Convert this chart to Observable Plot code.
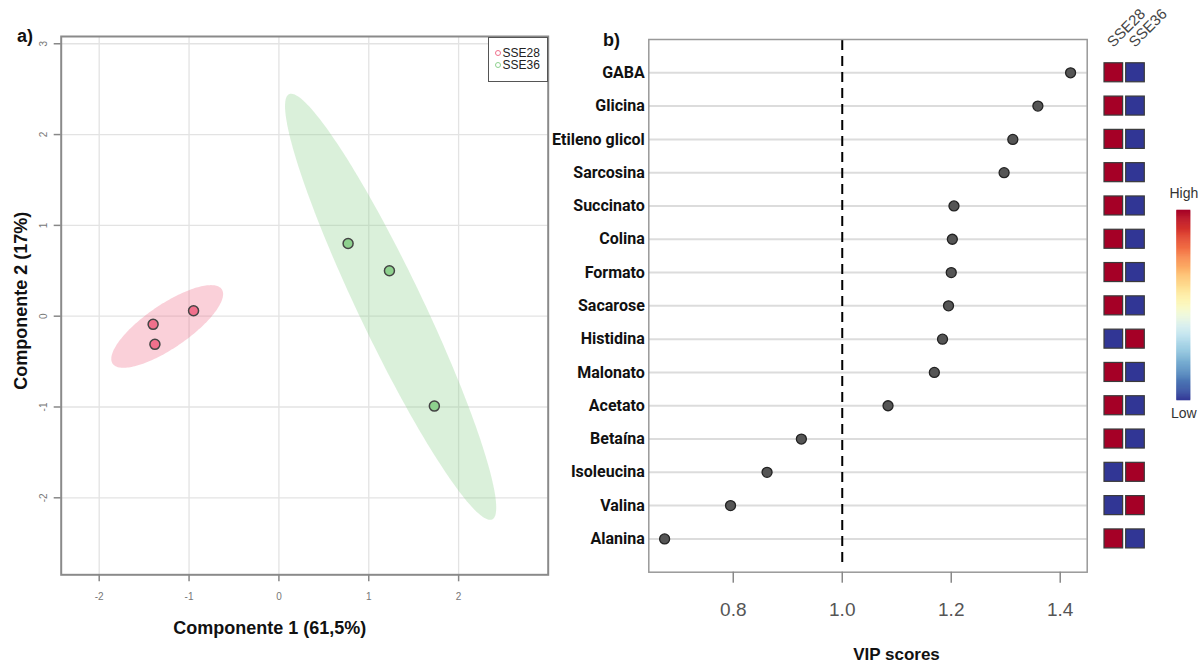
<!DOCTYPE html>
<html><head><meta charset="utf-8">
<script src="https://cdn.jsdelivr.net/npm/d3@7"></script>
<script src="https://cdn.jsdelivr.net/npm/@observablehq/plot@0.6"></script>
<style>
body{margin:0;background:#fff;}
#fig{position:relative;width:1198px;height:665px;overflow:hidden;background:#fff;font-family:"Liberation Sans",Arial,sans-serif;}
#fig svg{position:absolute;top:0;overflow:visible;}
.letter{position:absolute;font-weight:bold;font-size:18px;line-height:18px;color:#111;}
#legend{position:absolute;left:487.5px;top:36.5px;width:58px;height:43px;border:1px solid #555;background:#fff;font-size:12px;color:#222;}
#legend .row{position:absolute;left:0;height:12px;line-height:12px;white-space:nowrap;}
#legend .sw{position:absolute;left:6px;top:3px;width:4px;height:4px;border-radius:50%;border:1.5px solid;}
#legend .tx{position:absolute;left:14px;top:0;}
</style></head><body><div id="fig"></div>
<script>
// ---------- data ----------
const groupNames = ["SSE28", "SSE36"];
const sampleGroup = ["SSE28", "SSE28", "SSE28", "SSE36", "SSE36", "SSE36"];
const pc1 = [-1.40, -1.38, -0.95, 0.77, 1.23, 1.73];
const pc2 = [-0.09, -0.31, 0.06, 0.80, 0.50, -0.99];
const pcaXTicks = [-2, -1, 0, 1, 2];
const pcaYTicks = [-2, -1, 0, 1, 2, 3];

const metabolites = ["GABA", "Glicina", "Etileno glicol", "Sarcosina", "Succinato", "Colina", "Formato",
  "Sacarose", "Histidina", "Malonato", "Acetato", "Betaína", "Isoleucina", "Valina", "Alanina"];
const vipScores = [1.419, 1.359, 1.313, 1.297, 1.205, 1.202, 1.200, 1.195, 1.184, 1.169, 1.084, 0.925, 0.862, 0.795, 0.674];
const levelSSE28 = [1, 1, 1, 1, 1, 1, 1, 1, 0, 1, 1, 1, 0, 0, 1];
const levelSSE36 = [0, 0, 0, 0, 0, 0, 0, 0, 1, 0, 0, 0, 1, 1, 0];
const vipTicks = [0.8, 1.0, 1.2, 1.4];
const vipThreshold = [1.0];

// ---------- styles ----------
const groupColors = ["#F0708C", "#8ED18E"];
const font = "'Liberation Sans', Arial, sans-serif";
const labelFont = "Roboto, 'Liberation Sans', sans-serif";

// ---------- derived tables ----------
const pcaData = pc1.map((x, i) => ({group: sampleGroup[i], pc1: x, pc2: pc2[i]}));
function confEllipse(pts) {
  const n = pts.length;
  const mx = d3.mean(pts, d => d.pc1), my = d3.mean(pts, d => d.pc2);
  const sxx = d3.sum(pts, d => (d.pc1 - mx) ** 2) / (n - 1);
  const syy = d3.sum(pts, d => (d.pc2 - my) ** 2) / (n - 1);
  const sxy = d3.sum(pts, d => (d.pc1 - mx) * (d.pc2 - my)) / (n - 1);
  const tr = sxx + syy, det = sxx * syy - sxy * sxy;
  const disc = Math.sqrt(Math.max(0, tr * tr / 4 - det));
  const l1 = tr / 2 + disc, l2 = Math.max(0, tr / 2 - disc);
  const th = 0.5 * Math.atan2(2 * sxy, sxx - syy);
  const k = Math.sqrt(5.991); // 95% chi-square, 2 df
  const a = k * Math.sqrt(l1), b = k * Math.sqrt(l2);
  return d3.range(0, 2 * Math.PI, Math.PI / 90).map(t => ({
    x: mx + a * Math.cos(t) * Math.cos(th) - b * Math.sin(t) * Math.sin(th),
    y: my + a * Math.cos(t) * Math.sin(th) + b * Math.sin(t) * Math.cos(th)
  }));
}
const vipData = metabolites.map((m, i) => ({name: m, vip: vipScores[i]}));
const heatData = metabolites.flatMap((m, i) => [
  {name: m, col: "SSE28", level: levelSSE28[i]},
  {name: m, col: "SSE36", level: levelSSE36[i]}
]);
const colorScale = {type: "linear", scheme: "RdYlBu", reverse: true, domain: [0, 1]};
const rampStep = 0.005;
const rampLevels = d3.range(0, 1, rampStep);

const fig = document.getElementById("fig");

// ---------- panel a: PCA ----------
const left = Plot.plot({
  width: 560, height: 665,
  marginLeft: 60.7, marginRight: 12.3, marginTop: 36, marginBottom: 90.7,
  x: {domain: [-2.423, 2.997], label: null},
  y: {domain: [-2.848, 3.08], label: null},
  style: {fontFamily: font, fontSize: "10px", color: "#777", background: "transparent", overflow: "visible"},
  marks: [
    Plot.gridX(pcaXTicks, {stroke: "#e3e3e3", strokeOpacity: 1, strokeWidth: 1.3}),
    Plot.gridY(pcaYTicks, {stroke: "#e3e3e3", strokeOpacity: 1, strokeWidth: 1.3}),
    ...groupNames.map((g, gi) => Plot.line(confEllipse(pcaData.filter(d => d.group === g)),
      {x: "x", y: "y", fill: groupColors[gi], fillOpacity: 0.33, stroke: "none", curve: "linear-closed"})),
    Plot.dot(pcaData, {x: "pc1", y: "pc2", r: 5, fill: d => groupColors[groupNames.indexOf(d.group)], stroke: "#444", strokeWidth: 1.5}),
    Plot.frame({stroke: "#8a8a8a", strokeWidth: 2}),
    Plot.axisX(pcaXTicks, {tickSize: 7, tickPadding: 11, stroke: "#888", fill: "#777", strokeWidth: 1.5, tickFormat: d => String(d), label: null}),
    Plot.axisY(pcaYTicks, {tickSize: 7, tickPadding: 7, tickRotate: -90, stroke: "#888", fill: "#777", strokeWidth: 1.5, tickFormat: d => String(d), label: null}),
    Plot.text(["Componente 1 (61,5%)"], {frameAnchor: "bottom", textAnchor: "middle", lineAnchor: "middle", dx: -35, dy: 53.7, fontSize: 18, fontWeight: "bold", fill: "#111", fontFamily: font}),
    Plot.text(["Componente 2 (17%)"], {frameAnchor: "left", textAnchor: "middle", lineAnchor: "middle", dx: -40.2, dy: -5, rotate: -90, fontSize: 18, fontWeight: "bold", fill: "#111", fontFamily: font})
  ]
});
left.style.left = "0px";
fig.appendChild(left);

// ---------- panel b: VIP scores ----------
const right = Plot.plot({
  width: 560, height: 665,
  marginLeft: 108.3, marginRight: 13.3, marginTop: 39, marginBottom: 93.3,
  x: {domain: [0.645, 1.4495], label: null},
  y: {type: "point", domain: metabolites, padding: 1, round: false, label: null},
  style: {fontFamily: font, fontSize: "19px", color: "#555", background: "transparent", overflow: "visible"},
  marks: [
    Plot.gridY(metabolites, {stroke: "#dcdcdc", strokeOpacity: 1, strokeWidth: 2}),
    Plot.ruleX(vipThreshold, {stroke: "#000", strokeWidth: 2, strokeDasharray: "10,6", insetBottom: 8, insetTop: 1}),
    Plot.dot(vipData, {x: "vip", y: "name", r: 5, fill: "#555", stroke: "#222", strokeWidth: 1.3}),
    Plot.frame({stroke: "#999", strokeWidth: 1.5}),
    Plot.axisY(metabolites, {tickSize: 0, tickPadding: 4, fontSize: 16, fontWeight: "bold", fontFamily: labelFont, fill: "#111", label: null}),
    Plot.axisX(vipTicks, {tickSize: 11, tickPadding: 19, fontSize: 19, stroke: "#888", fill: "#555", strokeWidth: 1.5, tickFormat: d3.format(".1f"), label: null}),
    Plot.text(["VIP scores"], {frameAnchor: "bottom", textAnchor: "middle", lineAnchor: "middle", dx: 28.5, dy: 82, fontSize: 17, fontWeight: "bold", fill: "#111", fontFamily: font})
  ]
});
right.style.left = "540px";
fig.appendChild(right);

// ---------- heatmap ----------
const heat = Plot.plot({
  width: 108, height: 665,
  marginLeft: 14, marginRight: 53.7, marginTop: 39, marginBottom: 93.3,
  x: {type: "band", domain: groupNames, paddingInner: 0.14, paddingOuter: 0, round: false, axis: null},
  y: {type: "band", domain: metabolites, paddingInner: 0.429, paddingOuter: 0.714, round: false, axis: null},
  color: colorScale,
  style: {fontFamily: font, background: "transparent", overflow: "visible"},
  marks: [
    Plot.cell(heatData, {x: "col", y: "name", fill: "level", stroke: "#3a3a3a", strokeWidth: 1.2}),
    Plot.text(groupNames, {x: d => d, frameAnchor: "top", rotate: -45, textAnchor: "start", lineAnchor: "middle", dx: -4, dy: 5, fontSize: 15, fill: "#444"})
  ]
});
heat.style.left = "1090px";
fig.appendChild(heat);

// ---------- color key ----------
const key = Plot.plot({
  width: 38, height: 665,
  marginLeft: 16.7, marginRight: 8, marginTop: 210, marginBottom: 265,
  x: {domain: [0, 1], axis: null},
  y: {domain: [0, 1], axis: null},
  color: colorScale,
  style: {fontFamily: font, background: "transparent", overflow: "visible"},
  marks: [
    Plot.rect(rampLevels, {x1: 0, x2: 1, y1: d => d, y2: d => d + rampStep, fill: d => d + rampStep / 2, stroke: d => d + rampStep / 2, strokeWidth: 0.6}),
    Plot.text(["High"], {frameAnchor: "top", textAnchor: "middle", lineAnchor: "middle", dy: -17, fontSize: 14, fill: "#333"}),
    Plot.text(["Low"], {frameAnchor: "bottom", textAnchor: "middle", lineAnchor: "middle", dy: 13, fontSize: 14, fill: "#333"})
  ]
});
key.style.left = "1160px";
fig.appendChild(key);

// ---------- legend & panel letters ----------
const legend = document.createElement("div");
legend.id = "legend";
groupNames.forEach((g, i) => {
  const row = document.createElement("div");
  row.className = "row";
  row.style.top = (9 + i * 12.5) + "px";
  const sw = document.createElement("span");
  sw.className = "sw";
  sw.style.borderColor = groupColors[i];
  const tx = document.createElement("span");
  tx.className = "tx";
  tx.textContent = g;
  row.appendChild(sw); row.appendChild(tx);
  legend.appendChild(row);
});
fig.appendChild(legend);

[["a)", 17, 27], ["b)", 603, 31]].forEach(([t, x, y]) => {
  const d = document.createElement("div");
  d.className = "letter";
  d.style.left = x + "px"; d.style.top = y + "px";
  d.textContent = t;
  fig.appendChild(d);
});
</script></body></html>
